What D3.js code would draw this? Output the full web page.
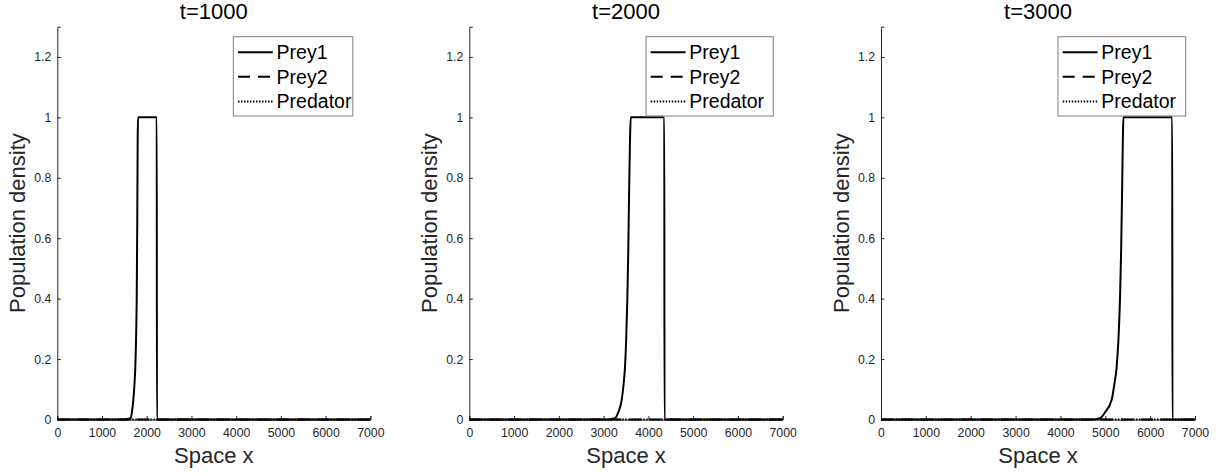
<!DOCTYPE html>
<html>
<head>
<meta charset="utf-8">
<script src="https://cdn.jsdelivr.net/npm/d3@7"></script>
<style>
  html, body { margin: 0; padding: 0; background: #fff; }
  svg { display: block; font-family: "Liberation Sans", Arial, Helvetica, sans-serif; }
</style>
</head>
<body>
<svg id="chart" width="1226" height="476"></svg>
<script>
// ---------- data ----------
const panelTitles = ["t=1000", "t=2000", "t=3000"];
const seriesNames = ["Prey1", "Prey2", "Predator"];
const xTicks = [0, 1000, 2000, 3000, 4000, 5000, 6000, 7000];
const yTicks = [0, 0.2, 0.4, 0.6, 0.8, 1, 1.2];

// Prey1 profiles (space x, density)
const prey1X_t1000 = [0, 1500, 1640, 1670, 1700, 1725, 1745, 1762, 1776, 1788, 1798, 1806, 2224, 2228, 2240, 7000];
const prey1Y_t1000 = [0, 0, 0.004, 0.025, 0.065, 0.115, 0.175, 0.27, 0.40, 0.65, 0.93, 1.0, 1.0, 0, 0, 0];
const prey1X_t2000 = [0, 3100, 3254, 3330, 3404, 3445, 3478, 3505, 3530, 3550, 3567, 3590, 3606, 4355, 4360, 4380, 7000];
const prey1Y_t2000 = [0, 0, 0.004, 0.025, 0.065, 0.115, 0.175, 0.27, 0.40, 0.55, 0.73, 0.93, 1.0, 1.0, 0, 0, 0];
const prey1X_t3000 = [0, 4700, 4882, 5000, 5142, 5200, 5254, 5295, 5328, 5352, 5372, 5392, 5404, 6492, 6497, 6510, 7000];
const prey1Y_t3000 = [0, 0, 0.004, 0.025, 0.065, 0.115, 0.175, 0.27, 0.40, 0.55, 0.73, 0.93, 1.0, 1.0, 0, 0, 0];

// Prey2 and Predator stay at (near) zero everywhere
const otherX = [0, 1000, 2000, 3000, 4000, 5000, 6000, 7000];
const prey2Y_t1000 = [0, 0, 0, 0, 0, 0, 0, 0];
const predY_t1000  = [0, 0, 0, 0, 0, 0, 0, 0];
const prey2Y_t2000 = [0, 0, 0, 0, 0, 0, 0, 0];
const predY_t2000  = [0, 0, 0, 0, 0, 0, 0, 0];
const prey2Y_t3000 = [0, 0, 0, 0, 0, 0, 0, 0];
const predY_t3000  = [0, 0, 0, 0, 0, 0, 0, 0];

// ---------- layout ----------
const panels = [
  { left: 57.3,  width: 313, legendLeft: 233.3, legendWidth: 119.5,
    p1x: prey1X_t1000, p1y: prey1Y_t1000, p2y: prey2Y_t1000, pdy: predY_t1000 },
  { left: 469.3, width: 313.4, legendLeft: 646, legendWidth: 127.3,
    p1x: prey1X_t2000, p1y: prey1Y_t2000, p2y: prey2Y_t2000, pdy: predY_t2000 },
  { left: 881,   width: 314, legendLeft: 1058, legendWidth: 127.7,
    p1x: prey1X_t3000, p1y: prey1Y_t3000, p2y: prey2Y_t3000, pdy: predY_t3000 }
];
const plotTop = 26.7, plotBottom = 419.5;
const axisColor = "#262626";
const styles = [
  { dash: null, width: 2 },
  { dash: "12,8", width: 2 },
  { dash: "1.5,1.5", width: 2 }
];

const svg = d3.select("#chart");
svg.append("rect").attr("width", 1226).attr("height", 476).attr("fill", "#fff");

panels.forEach((p, i) => {
  const x = d3.scaleLinear().domain([0, 7000]).range([p.left, p.left + p.width]);
  const y = d3.scaleLinear().domain([0, 1.3]).range([plotBottom, plotTop]);
  const g = svg.append("g");

  // x axis
  const xa = g.append("g").attr("transform", `translate(0,${plotBottom})`)
    .call(d3.axisBottom(x).tickValues(xTicks).tickSize(-3.5).tickPadding(9).tickFormat(d3.format("d")));
  xa.select(".domain").attr("stroke", axisColor).attr("stroke-width", 1);
  xa.selectAll(".tick line").attr("stroke", axisColor);
  xa.selectAll(".tick text").attr("fill", axisColor).attr("font-size", 12.3)
    .attr("font-family", "Liberation Sans, Arial, sans-serif");

  // y axis
  const ya = g.append("g").attr("transform", `translate(${p.left},0)`)
    .call(d3.axisLeft(y).tickValues(yTicks).tickSize(-3.5).tickPadding(6).tickFormat(d => d3.format("~g")(d)));
  ya.select(".domain").attr("stroke", axisColor).attr("stroke-width", 1);
  ya.selectAll(".tick line").attr("stroke", axisColor);
  ya.selectAll(".tick text").attr("fill", axisColor).attr("font-size", 12.3)
    .attr("font-family", "Liberation Sans, Arial, sans-serif");

  // series
  const line = d3.line().x(d => x(d[0])).y(d => y(d[1])).curve(d3.curveMonotoneX);
  const series = [
    d3.zip(p.p1x, p.p1y),
    d3.zip(otherX, p.p2y),
    d3.zip(otherX, p.pdy)
  ];
  series.forEach((s, k) => {
    g.append("path").datum(s).attr("d", line)
      .attr("fill", "none").attr("stroke", "#000")
      .attr("stroke-width", styles[k].width)
      .attr("stroke-dasharray", styles[k].dash)
      .attr("stroke-linejoin", "round");
  });

  // title
  g.append("text").attr("x", p.left + p.width / 2).attr("y", 18.5)
    .attr("text-anchor", "middle").attr("font-size", 22).attr("fill", "#000")
    .text(panelTitles[i]);

  // x label
  g.append("text").attr("x", p.left + p.width / 2).attr("y", 462.5)
    .attr("text-anchor", "middle").attr("font-size", 22).attr("fill", axisColor)
    .text("Space x");

  // y label
  g.append("text")
    .attr("transform", `translate(${p.left - 32},${(plotTop + plotBottom) / 2}) rotate(-90)`)
    .attr("text-anchor", "middle").attr("font-size", 22).attr("fill", axisColor)
    .text("Population density");

  // legend
  const lg = g.append("g").attr("transform", `translate(${p.legendLeft},36.7)`);
  lg.append("rect").attr("width", p.legendWidth).attr("height", 79.3)
    .attr("fill", "#fff").attr("stroke", "#7f7f7f").attr("stroke-width", 1);
  seriesNames.forEach((name, k) => {
    const cy = 15.5 + k * 24.6;
    lg.append("line").attr("x1", 4.7).attr("x2", 39.5).attr("y1", cy).attr("y2", cy)
      .attr("stroke", "#000").attr("stroke-width", styles[k].width)
      .attr("stroke-dasharray", styles[k].dash);
    lg.append("text").attr("x", 43.3).attr("y", cy + 7)
      .attr("font-size", 19.5).attr("fill", "#000").text(name);
  });
});
</script>
</body>
</html>
